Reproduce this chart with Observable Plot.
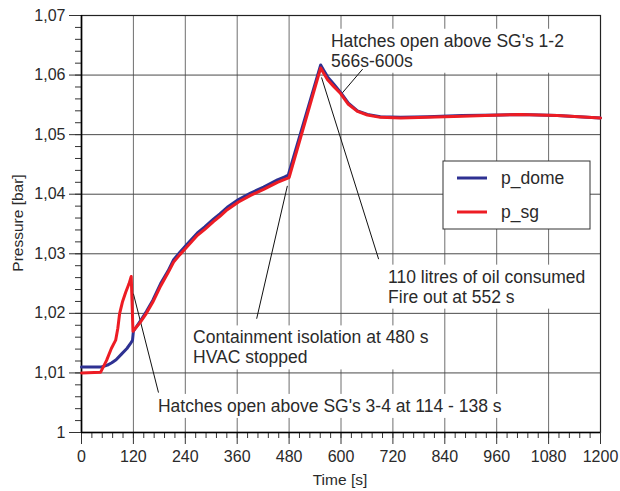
<!DOCTYPE html>
<html><head><meta charset="utf-8">
<script src="https://cdn.jsdelivr.net/npm/d3@7"></script>
<script src="https://cdn.jsdelivr.net/npm/@observablehq/plot@0.6"></script>
<style>body{margin:0;background:#fff}</style>
</head><body><div id="chart"></div>
<script>
const domeTime = [0, 46, 60, 70, 80, 93, 105, 113, 118, 120, 135, 150, 165, 183, 200, 213, 228, 243, 268, 285, 305, 320, 337, 363, 391, 421, 453, 470, 478, 553, 560, 569, 583, 599, 617, 638, 661, 691, 738, 800, 880, 969, 1015, 1100, 1200];
const domeP = [1.0110, 1.0110, 1.0113, 1.0117, 1.0122, 1.0132, 1.0141, 1.0149, 1.0155, 1.0170, 1.0186, 1.0203, 1.0222, 1.0250, 1.0271, 1.0290, 1.0303, 1.0315, 1.0335, 1.0345, 1.0358, 1.0367, 1.0378, 1.0391, 1.0402, 1.0412, 1.0424, 1.0429, 1.0432, 1.0617, 1.0608, 1.0597, 1.0585, 1.0571, 1.0553, 1.0540, 1.0534, 1.0530, 1.0529, 1.0530, 1.0532, 1.0533, 1.0534, 1.0532, 1.0528];
const sgTime = [0, 44, 58, 69, 79, 84, 88, 95, 102, 110, 115, 119, 135, 150, 165, 183, 200, 213, 228, 243, 268, 285, 305, 320, 337, 363, 391, 421, 453, 470, 480, 553, 560, 569, 583, 599, 617, 638, 661, 691, 738, 800, 880, 969, 1015, 1100, 1200];
const sgP = [1.0100, 1.0101, 1.0121, 1.0141, 1.0155, 1.0175, 1.0199, 1.0220, 1.0235, 1.0250, 1.0262, 1.0170, 1.0184, 1.0200, 1.0219, 1.0246, 1.0268, 1.0286, 1.0299, 1.0311, 1.0331, 1.0341, 1.0354, 1.0363, 1.0374, 1.0387, 1.0398, 1.0408, 1.0420, 1.0425, 1.0428, 1.0612, 1.0603, 1.0592, 1.0581, 1.0569, 1.0551, 1.0539, 1.0533, 1.0529, 1.0528, 1.0529, 1.0531, 1.0533, 1.0534, 1.0532, 1.0528];
const seriesNames = ["p_dome", "p_sg"];
const seriesColors = ["#2e3192", "#ed1c24"];
const xTicks = [0, 120, 240, 360, 480, 600, 720, 840, 960, 1080, 1200];
const xMinor = d3.range(0, 1201, 24);
const yTicks = [1, 1.01, 1.02, 1.03, 1.04, 1.05, 1.06, 1.07];
const yMinor = d3.range(0, 36).map(i => 1 + i * 0.002);
const notes = [
  {lines: ["Hatches open above SG's 1-2", "566s-600s"], t: 578, p: 1.0657, from: [650, 1.0610], to: [603, 1.0570]},
  {lines: ["110 litres of oil consumed", "Fire out at 552 s"], t: 710, p: 1.0261, from: [687, 1.0291], to: [555, 1.0596]},
  {lines: ["Containment isolation at 480 s", "HVAC stopped"], t: 259, p: 1.0159, from: [405, 1.0191], to: [476, 1.0414]},
  {lines: ["Hatches open above SG's 3-4 at 114 - 138 s"], t: 178, p: 1.0044, from: [178, 1.0067], to: [120, 1.0233]}
];

const font = "'Liberation Sans', Arial, sans-serif";
const dome = domeTime.map((t, i) => ({t, p: domeP[i]}));
const sg = sgTime.map((t, i) => ({t, p: sgP[i]}));
const fmt = d => d === 1 ? "1" : d.toFixed(2).replace(".", ",");

const plot = Plot.plot({
  width: 620, height: 491,
  marginLeft: 81, marginRight: 20, marginTop: 15, marginBottom: 59,
  x: {domain: [0, 1200], label: null},
  y: {domain: [1, 1.07], label: null},
  style: {fontFamily: font, fontSize: "16px", color: "#2a2a2a", background: "#fff"},
  marks: [
    Plot.gridX(xTicks, {stroke: "#6e6e6e", strokeOpacity: 1, strokeWidth: 1}),
    Plot.gridY(yTicks, {stroke: "#4a4a4a", strokeOpacity: 1, strokeWidth: 1}),
    Plot.frame({stroke: "#222", strokeWidth: 1.2}),
    Plot.axisX(xMinor, {tickSize: 6, tickFormat: () => "", stroke: "#333", label: null}),
    Plot.axisX(xTicks, {tickSize: 12, tickPadding: 6, tickFormat: d => String(d), stroke: "#333", fontSize: 16, label: null}),
    Plot.axisY(yMinor, {tickSize: 6, tickFormat: () => "", stroke: "#333", label: null}),
    Plot.axisY(yTicks, {tickSize: 12, tickPadding: 4, tickFormat: fmt, stroke: "#333", fontSize: 16, label: null}),
    Plot.ruleX([0], {stroke: "#000", strokeWidth: 1.6}),
    Plot.ruleY([1], {stroke: "#000", strokeWidth: 1.6}),
    Plot.link(notes, {x1: d => d.from[0], y1: d => d.from[1], x2: d => d.to[0], y2: d => d.to[1], stroke: "#111", strokeWidth: 1}),
    Plot.line(dome, {x: "t", y: "p", stroke: seriesColors[0], strokeWidth: 3}),
    Plot.line(sg, {x: "t", y: "p", stroke: seriesColors[1], strokeWidth: 3})
  ]
});
document.getElementById("chart").appendChild(plot);

const svg = d3.select(plot);
const xs = plot.scale("x"), ys = plot.scale("y");
const g = document.createElementNS("http://www.w3.org/2000/svg", "g");
svg.select('g[aria-label="y-grid"]').node().after(g);
const ng = d3.select(g);
notes.forEach(n => {
  const grp = ng.append("g");
  const rect = grp.append("rect").attr("fill", "#fff");
  const x0 = xs.apply(n.t), y0 = ys.apply(n.p);
  n.lines.forEach((l, i) => {
    grp.append("text").attr("x", x0).attr("y", y0 + i * 20).attr("dy", "0.35em")
      .attr("text-anchor", "start")
      .attr("font-family", font).attr("font-size", 17.5).attr("fill", "#2a2a2a").text(l);
  });
  const bb = grp.node().getBBox();
  rect.attr("x", bb.x - 4).attr("y", bb.y - 2).attr("width", bb.width + 8).attr("height", bb.height + 4);
});

// legend
const lg = svg.append("g");
lg.append("rect").attr("x", 443).attr("y", 161).attr("width", 147).attr("height", 68)
  .attr("fill", "#fff").attr("stroke", "#333").attr("stroke-width", 1);
seriesNames.forEach((s, i) => {
  const yy = 178 + i * 34;
  lg.append("line").attr("x1", 457).attr("x2", 487).attr("y1", yy).attr("y2", yy)
    .attr("stroke", seriesColors[i]).attr("stroke-width", 3);
  lg.append("text").attr("x", 501).attr("y", yy).attr("dy", "0.35em").attr("text-anchor", "start")
    .attr("font-family", font).attr("font-size", 17.5).attr("fill", "#2a2a2a").text(s);
});

// axis titles
svg.append("text").attr("transform", "translate(18,223) rotate(-90)").attr("text-anchor", "middle")
  .attr("dy", "0.35em").attr("font-family", font).attr("font-size", 15.5).attr("fill", "#2a2a2a").text("Pressure [bar]");
svg.append("text").attr("x", 340).attr("y", 480).attr("text-anchor", "middle")
  .attr("dy", "0.35em").attr("font-family", font).attr("font-size", 15.5).attr("fill", "#2a2a2a").text("Time [s]");
</script>
</body></html>
